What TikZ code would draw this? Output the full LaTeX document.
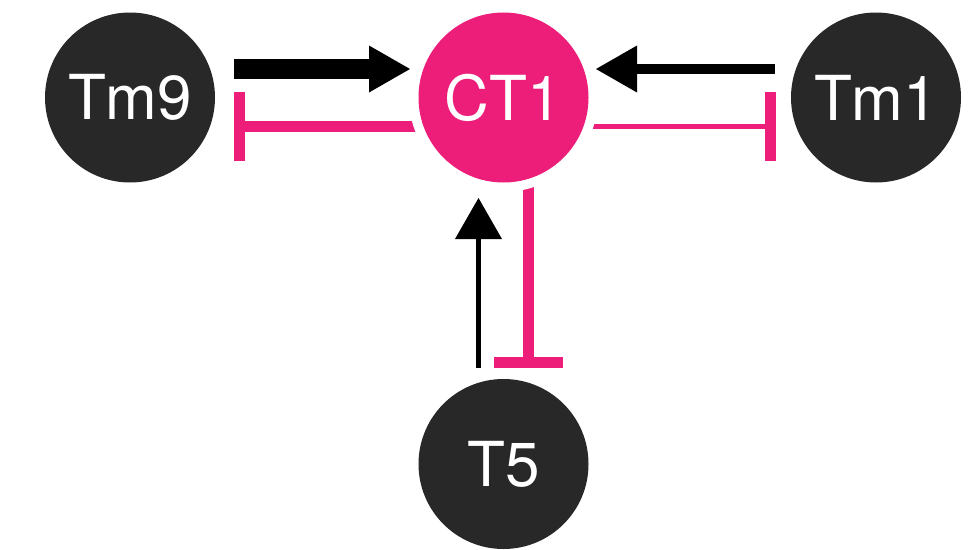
\documentclass[tikz,border=0pt]{standalone}
\usepackage{fontspec}
\setmainfont{TeX Gyre Heros}
\usetikzlibrary{arrows.meta,calc}
\definecolor{mag}{RGB}{237,30,121}
\definecolor{dark}{RGB}{40,40,40}
\pgfdeclarelayer{bg}
\pgfdeclarelayer{ring}
\pgfsetlayers{bg,ring,main}
\tikzset{
  cell/.style={circle,minimum size=170pt,inner sep=0pt,text=white,
    font=\fontsize{62}{62}\selectfont},
  darkcell/.style={cell,fill=dark},
  pinkcell/.style={cell,fill=mag},
  act/.style={draw=black,-{Triangle[length=41pt,width=47pt,line width=0pt]}},
  inh/.style={draw=mag,-{Bar[width=69pt,line width=11pt]}},
}
\begin{document}
\begin{tikzpicture}[x=1pt,y=-1pt]
\useasboundingbox (0,0) rectangle (974,549);
\node[pinkcell] (CT1) at (503.5,97.5) {CT1};
\node[darkcell] (Tm9) at (130,97.5) {Tm9};
\node[darkcell] (Tm1) at (876,97.5) {Tm1};
\node[darkcell] (T5) at (503.5,464) {T5};
\begin{pgfonlayer}{ring}
  \fill[white] (CT1.center) circle[radius=94.5pt];
\end{pgfonlayer}
\begin{pgfonlayer}{bg}
  \draw[act,line width=20pt] ($(Tm9)+(104,-28.5)$) -- ($(CT1)+(-93.5,-28.5)$);
  \draw[inh,line width=11pt] ($(CT1)+(-60,29)$) -- ($(Tm9)+(104,29)$);
  \draw[act,line width=10pt] ($(Tm1)+(-101,-28.5)$) -- ($(CT1)+(92.5,-28.5)$);
  \draw[inh,line width=5pt] ($(CT1)+(60,29)$) -- ($(Tm1)+(-100,29)$);
  \draw[act,line width=5pt] ($(T5)+(-25,-96)$) -- ($(CT1)+(-25,100.5)$);
  \draw[inh,line width=11pt] ($(CT1)+(25,60)$) -- ($(T5)+(25,-96)$);
\end{pgfonlayer}
\end{tikzpicture}
\end{document}
